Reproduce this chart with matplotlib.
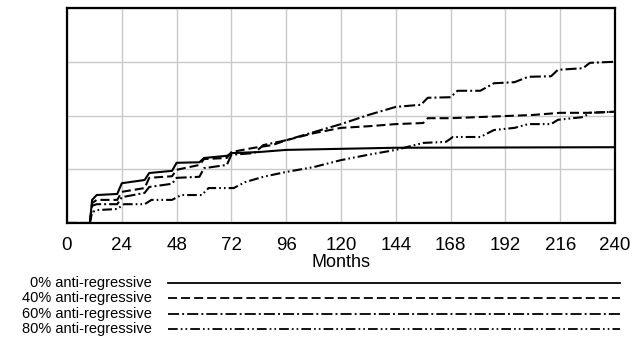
import matplotlib
matplotlib.use("Agg")
import matplotlib.pyplot as plt
from matplotlib.lines import Line2D

plt.rcParams['font.family'] = ['Liberation Sans', 'DejaVu Sans']
plt.rcParams['lines.scale_dashes'] = False

# series (month, value); one grid step = 100
m_0 = [0, 10, 11, 13, 22, 24, 34, 36, 46, 48, 58, 60, 70, 72, 84, 96, 120, 144, 240]
v_0 = [0, 0, 43, 52, 54, 74, 80, 93, 97, 112, 113, 121, 125, 130, 132, 136, 138, 140, 141]

m_40 = [0, 10, 11, 13, 22, 24, 34, 36, 46, 48, 58, 60, 70, 72, 82, 90, 96, 108, 120,
        132, 144, 156, 158, 168, 180, 192, 204, 216, 228, 240]
v_40 = [0, 0, 37, 43, 43, 58, 65, 84, 87, 99, 108, 119, 121, 132, 140, 145, 154, 167, 177,
        180, 184, 186, 195, 195, 197, 199, 201, 205, 205, 207]

m_60 = [0, 10, 11, 13, 22, 24, 34, 36, 46, 48, 58, 60, 70, 72, 82, 86, 96, 108, 120,
        132, 144, 155, 158, 168, 171, 181, 187, 196, 202, 212, 215, 226, 229, 240]
v_60 = [0, 0, 32, 35, 35, 48, 56, 67, 73, 84, 86, 102, 108, 127, 130, 145, 154, 169, 184,
        201, 216, 220, 233, 234, 246, 246, 260, 262, 272, 273, 285, 288, 298, 300]

m_80 = [0, 10, 11, 13, 22, 25, 34, 37, 46, 50, 59, 62, 73, 78, 86, 96, 108, 120,
        132, 144, 156, 166, 169, 181, 187, 196, 202, 212, 215, 226, 229, 240]
v_80 = [0, 0, 20, 24, 26, 35, 35, 43, 43, 52, 52, 65, 65, 76, 86, 95, 104, 117,
        127, 136, 149, 151, 160, 160, 173, 177, 184, 184, 192, 197, 205, 207]

labels = ['0% anti-regressive', '40% anti-regressive',
          '60% anti-regressive', '80% anti-regressive']
x_ticks = [0, 24, 48, 72, 96, 120, 144, 168, 192, 216, 240]

styles = [
    (None),
    (0, (6.5, 2.9)),
    (0, (8, 2.2, 1.4, 2.2)),
    (0, (7, 2.2, 1.2, 2.2, 1.2, 2.2)),
]

fig = plt.figure(figsize=(6.34, 3.39), dpi=100)
ax = fig.add_axes([67 / 634, 1 - 223 / 339, 548 / 634, 215 / 339])

series = [(m_0, v_0), (m_40, v_40), (m_60, v_60), (m_80, v_80)]
for (m, v), st in zip(series, styles):
    if st is None:
        ax.plot(m, v, color='black', lw=1.5, solid_capstyle='butt')
    else:
        ax.plot(m, v, color='black', lw=1.5, linestyle=st, dash_capstyle='butt')

ax.set_xlim(0, 240)
ax.set_ylim(0, 400)
ax.set_xticks(x_ticks)
ax.set_yticks([0, 100, 200, 300, 400])
ax.set_yticklabels([])
ax.grid(True, color='#c8c8c8', lw=1)
ax.tick_params(length=0, labelsize=13.5, pad=10)
for s in ax.spines.values():
    s.set_linewidth(1.6)
ax.set_xlabel('Months', fontsize=13, labelpad=0)

# legend rows below the chart
rows_y = [283, 298, 314, 329]
for lab, st, y in zip(labels, styles, rows_y):
    fy = 1 - y / 339
    fig.text(152 / 634, fy, lab, ha='right', va='center', fontsize=10.5)
    ln = Line2D([168 / 634, 620 / 634], [fy, fy], transform=fig.transFigure,
                color='black', lw=1.3)
    if st is not None:
        ln.set_linestyle(st)
        ln.set_dash_capstyle('butt')
    fig.add_artist(ln)

fig.savefig('out.png', dpi=100)
